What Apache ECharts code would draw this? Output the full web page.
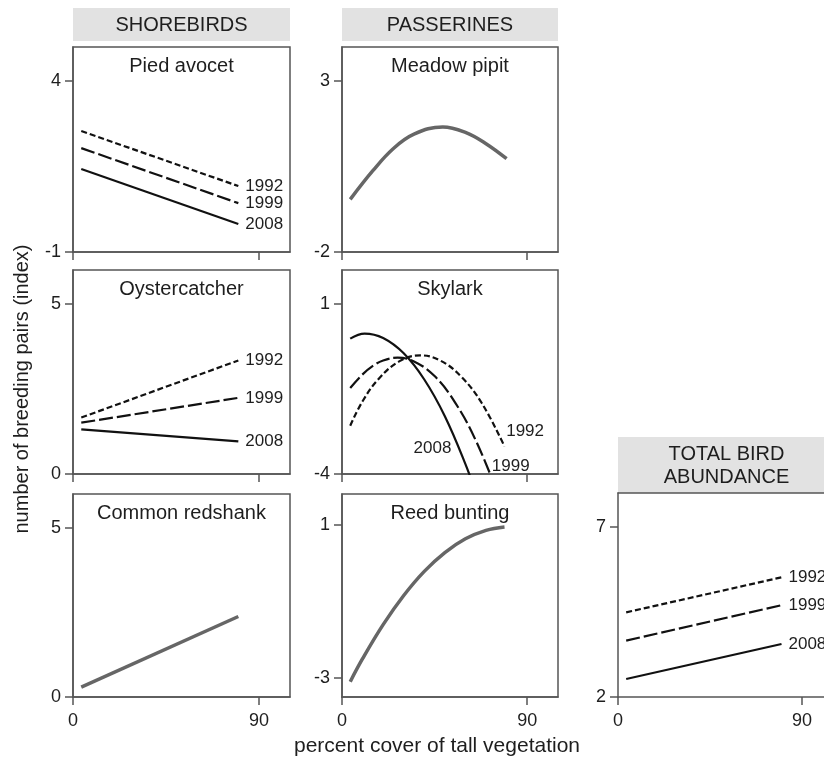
<!DOCTYPE html>
<html>
<head>
<meta charset="utf-8">
<title>Breeding pairs vs tall vegetation</title>
<script src="https://cdn.jsdelivr.net/npm/echarts@6/dist/echarts.min.js"></script>
<style>
  html, body { margin: 0; padding: 0; background: #fff; }
  #chart { width: 824px; height: 761px; }
</style>
</head>
<body>
<div id="chart"></div>
<script>
// values (x = percent cover of tall vegetation)
var years = ['1992', '1999', '2008'];
var xTicks = [0, 90];
var lineX = [4, 80];

var avocet1992 = [2.54, 0.93];
var avocet1999 = [2.04, 0.43];
var avocet2008 = [1.43, -0.18];
var avocetTicks = [-1, 4];

var oyster1992 = [1.66, 3.34];
var oyster1999 = [1.51, 2.24];
var oyster2008 = [1.31, 0.96];
var oysterTicks = [0, 5];

var redshankY = [0.29, 2.38];
var redshankTicks = [0, 5];

var pipitX = [4, 15, 25, 35, 49, 60, 70, 80];
var pipitY = [-0.46, 0.38, 1.03, 1.45, 1.66, 1.5, 1.17, 0.73];
var pipitTicks = [-2, 3];

var sky1992X = [4, 10, 18, 28, 38, 48, 58, 68, 79];
var sky1992Y = [-2.58, -1.86, -1.19, -0.68, -0.51, -0.67, -1.14, -1.92, -3.19];
var sky1999X = [4, 10, 15, 20, 27, 35, 45, 55, 65, 76];
var sky1999Y = [-1.47, -1.07, -0.82, -0.66, -0.58, -0.69, -1.12, -1.9, -3.01, -4.61];
var sky2008X = [4, 11, 20, 30, 40, 50, 60, 66];
var sky2008Y = [-0.02, 0.13, 0.0, -0.45, -1.22, -2.3, -3.71, -4.71];
var skyTicks = [-4, 1];

var buntingX = [4, 10, 20, 30, 40, 50, 60, 70, 79];
var buntingY = [-3.1, -2.5, -1.61, -0.85, -0.22, 0.27, 0.63, 0.85, 0.94];
var buntingTicks = [-3, 1];

var total1992 = [4.49, 5.52];
var total1999 = [3.66, 4.7];
var total2008 = [2.53, 3.56];
var totalTicks = [2, 7];

var FONT = '"Liberation Sans", Arial, Helvetica, sans-serif';
var AX = '#555';
var TXT = '#1e1e1e';

// panel layout (the total panel runs off the right edge of the picture)
var panels = [
  {title: 'Pied avocet',     left: 73,  top: 47,  w: 217, h: 205, xMax: 105,   min: -1,   max: 5,   ticks: avocetTicks,   xl: false, box: true},
  {title: 'Oystercatcher',   left: 73,  top: 270, w: 217, h: 204, xMax: 105,   min: 0,    max: 6,   ticks: oysterTicks,   xl: false, box: true},
  {title: 'Common redshank', left: 73,  top: 494, w: 217, h: 203, xMax: 105,   min: 0,    max: 6,   ticks: redshankTicks, xl: true,  box: true},
  {title: 'Meadow pipit',    left: 342, top: 47,  w: 216, h: 205, xMax: 105,   min: -2,   max: 4,   ticks: pipitTicks,    xl: false, box: true},
  {title: 'Skylark',         left: 342, top: 270, w: 216, h: 204, xMax: 105,   min: -4,   max: 2,   ticks: skyTicks,      xl: false, box: true},
  {title: 'Reed bunting',    left: 342, top: 494, w: 216, h: 203, xMax: 105,   min: -3.5, max: 1.8, ticks: buntingTicks,  xl: true,  box: true},
  {title: '',                left: 618, top: 493, w: 206, h: 204, xMax: 100.8, min: 2,    max: 8,   ticks: totalTicks,    xl: true,  box: false}
];

function zip(xs, ys) {
  return xs.map(function (x, i) { return [x, ys[i]]; });
}

var dashes = {'1992': [6, 3], '1999': [14, 4], '2008': 'solid'};

function yearLine(idx, xs, ys, year, withLabel) {
  var s = {
    type: 'line', xAxisIndex: idx, yAxisIndex: idx,
    data: zip(xs, ys), symbol: 'none', smooth: xs.length > 2 ? 0.4 : false,
    lineStyle: {color: '#111', width: 2.2, type: dashes[year]},
    silent: true
  };
  if (withLabel) {
    s.endLabel = {show: true, formatter: year, distance: 7, fontSize: 17, color: TXT, fontFamily: FONT};
  }
  return s;
}

function grayLine(idx, xs, ys) {
  return {
    type: 'line', xAxisIndex: idx, yAxisIndex: idx,
    data: zip(xs, ys), symbol: 'none', smooth: xs.length > 2 ? 0.4 : false,
    lineStyle: {color: '#666', width: 3.5}, silent: true
  };
}

function skyLabel(year, coord) {
  return {
    symbol: 'circle', symbolSize: 1, itemStyle: {color: 'rgba(0,0,0,0)'},
    label: {show: true, position: 'inside', formatter: year, fontSize: 17, color: TXT, fontFamily: FONT},
    data: [{coord: coord}]
  };
}

var grids = [], xAxes = [], yAxes = [], graphics = [];
panels.forEach(function (p, i) {
  grids.push({left: p.left, top: p.top, width: p.w, height: p.h, show: p.box, borderColor: AX, borderWidth: 1.5});
  xAxes.push({
    gridIndex: i, type: 'value', min: 0, max: p.xMax,
    axisLine: {show: true, onZero: false, lineStyle: {color: AX, width: 1.5}},
    axisTick: {show: true, length: 8, customValues: xTicks, lineStyle: {color: AX, width: 1.5}},
    axisLabel: {show: p.xl, customValues: xTicks, margin: 15, fontSize: 18, color: TXT, fontFamily: FONT},
    splitLine: {show: false}
  });
  yAxes.push({
    gridIndex: i, type: 'value', min: p.min, max: p.max,
    axisLine: {show: true, onZero: false, lineStyle: {color: AX, width: 1.5}},
    axisTick: {show: true, length: 8, customValues: p.ticks, lineStyle: {color: AX, width: 1.5}},
    axisLabel: {customValues: p.ticks, margin: 12, fontSize: 18, color: TXT, fontFamily: FONT},
    splitLine: {show: false}
  });
  if (p.title) {
    graphics.push({
      type: 'text', silent: true,
      style: {x: p.left + p.w / 2, y: p.top + 19, text: p.title, textAlign: 'center', align: 'center',
              textVerticalAlign: 'middle', verticalAlign: 'middle', font: '20px ' + FONT, fill: TXT}
    });
  }
});
// top edge of the cut-off total panel
xAxes.push({
  gridIndex: 6, type: 'value', position: 'top', min: 0, max: 100.8,
  axisLine: {show: true, onZero: false, lineStyle: {color: AX, width: 1.5}},
  axisTick: {show: false}, axisLabel: {show: false}, splitLine: {show: false}
});

function strip(x, y, w, h, text) {
  graphics.push({type: 'rect', silent: true, shape: {x: x, y: y, width: w, height: h}, style: {fill: '#e2e2e2'}});
  graphics.push({
    type: 'text', silent: true,
    style: {x: x + w / 2, y: y + h / 2 + 1, text: text, textAlign: 'center', align: 'center',
            textVerticalAlign: 'middle', verticalAlign: 'middle', font: '20px ' + FONT, fill: TXT, lineHeight: 23}
  });
}
strip(73, 8, 217, 33, 'SHOREBIRDS');
strip(342, 8, 216, 33, 'PASSERINES');
strip(618, 437, 217, 56, 'TOTAL BIRD\nABUNDANCE');

graphics.push({
  type: 'text', silent: true, x: 22, y: 389, rotation: Math.PI / 2,
  style: {x: 0, y: 0, text: 'number of breeding pairs (index)', textAlign: 'center', align: 'center',
          textVerticalAlign: 'middle', verticalAlign: 'middle', font: '20px ' + FONT, fill: TXT}
});
graphics.push({
  type: 'text', silent: true,
  style: {x: 437, y: 746, text: 'percent cover of tall vegetation', textAlign: 'center', align: 'center',
          textVerticalAlign: 'middle', verticalAlign: 'middle', font: '21px ' + FONT, fill: TXT}
});

var sky1992 = yearLine(4, sky1992X, sky1992Y, '1992', false);
sky1992.markPoint = skyLabel('1992', [89, -2.75]);
var sky1999 = yearLine(4, sky1999X, sky1999Y, '1999', false);
sky1999.markPoint = skyLabel('1999', [82, -3.77]);
var sky2008 = yearLine(4, sky2008X, sky2008Y, '2008', false);
sky2008.markPoint = skyLabel('2008', [44, -3.24]);

var series = [
  yearLine(0, lineX, avocet1992, '1992', true),
  yearLine(0, lineX, avocet1999, '1999', true),
  yearLine(0, lineX, avocet2008, '2008', true),
  yearLine(1, lineX, oyster1992, '1992', true),
  yearLine(1, lineX, oyster1999, '1999', true),
  yearLine(1, lineX, oyster2008, '2008', true),
  grayLine(2, lineX, redshankY),
  grayLine(3, pipitX, pipitY),
  sky1992, sky1999, sky2008,
  grayLine(5, buntingX, buntingY),
  yearLine(6, lineX, total1992, '1992', true),
  yearLine(6, lineX, total1999, '1999', true),
  yearLine(6, lineX, total2008, '2008', true)
];

var chart = echarts.init(document.getElementById('chart'));
chart.setOption({
  animation: false,
  backgroundColor: '#fff',
  textStyle: {fontFamily: FONT},
  grid: grids,
  xAxis: xAxes,
  yAxis: yAxes,
  series: series,
  graphic: graphics
});
</script>
</body>
</html>
